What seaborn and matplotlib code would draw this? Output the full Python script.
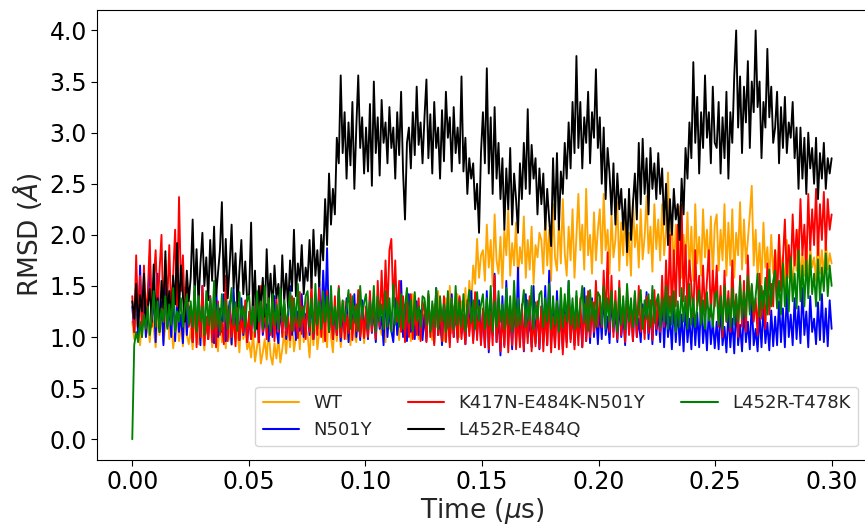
import numpy as np
import pandas as pd
import matplotlib
matplotlib.use("Agg")
import matplotlib.pyplot as plt
import seaborn as sns

# ---- data (RMSD in Angstrom, sampled uniformly over 0 - 0.3 us) ----
series_names = ["WT", "N501Y", "K417N-E484K-N501Y", "L452R-E484Q", "L452R-T478K"]
series_colors = ["orange", "blue", "red", "black", "green"]
t_start, t_end = 0.0, 0.30

rmsd_wt = [
    1.15, 0.98, 1.22, 1.05, 0.92, 1.18, 1.30, 1.00, 1.12, 0.95, 1.25, 1.08, 0.90, 1.20, 1.02, 1.28, 0.94, 1.10, 1.35, 0.98, 1.16, 0.89, 1.05, 1.24, 0.96, 1.12, 0.91, 1.30, 1.02, 0.93,
    1.08, 0.88, 1.20, 1.00, 0.93, 1.25, 1.05, 0.87, 1.15, 0.98, 1.28, 0.90, 1.10, 1.02, 0.86, 1.22, 0.95, 1.12, 0.89, 1.30, 1.00, 0.92, 1.18, 0.96, 1.06, 0.85, 1.20, 0.98, 1.08, 0.88,
    0.95, 0.80, 1.05, 0.76, 0.90, 1.02, 0.74, 0.85, 0.98, 0.78, 1.08, 0.82, 0.73, 0.94, 0.79, 1.00, 0.75, 0.88, 1.05, 0.84, 1.12, 0.90, 1.20, 0.86, 1.00, 1.15, 0.88, 1.25, 0.95, 1.08,
    1.02, 0.80, 1.15, 0.92, 1.22, 0.88, 1.05, 1.28, 0.95, 1.10, 0.90, 1.30, 1.00, 0.85, 1.18, 0.96, 1.25, 0.90, 1.08, 1.35, 0.98, 1.12, 0.92, 1.22, 1.04, 0.95, 1.28, 1.00, 1.15, 0.94,
    1.20, 0.98, 1.35, 1.05, 1.25, 0.96, 1.40, 1.10, 1.02, 1.30, 0.95, 1.45, 1.08, 1.22, 0.99, 1.32, 1.12, 0.97, 1.38, 1.04, 1.18, 1.00, 1.28, 0.96, 1.42, 1.06, 1.15, 0.98, 1.25, 1.03,
    1.28, 1.00, 1.40, 1.05, 0.97, 1.32, 1.10, 1.45, 1.02, 1.22, 0.96, 1.38, 1.08, 1.50, 1.04, 1.30, 1.12, 1.42, 1.00, 1.35, 1.15, 1.48, 1.10, 1.55, 1.30, 1.70, 1.52, 1.96, 1.58, 1.80,
    1.85, 1.55, 2.10, 1.68, 1.95, 1.50, 2.20, 1.75, 1.62, 1.98, 1.48, 2.05, 1.80, 2.25, 1.60, 1.92, 1.70, 2.12, 1.55, 1.88, 1.72, 2.18, 1.58, 1.95, 1.66, 2.08, 1.52, 1.90, 1.78, 2.02,
    1.95, 1.62, 2.20, 1.70, 2.05, 1.55, 2.30, 1.78, 1.65, 2.15, 1.72, 2.35, 1.82, 1.60, 2.08, 1.75, 2.25, 1.58, 1.98, 2.40, 1.85, 2.10, 1.66, 2.45, 1.80, 2.00, 1.62, 2.22, 1.75, 2.05,
    2.25, 1.72, 2.40, 1.85, 2.05, 1.62, 2.20, 1.78, 1.95, 2.32, 1.65, 2.12, 1.80, 2.28, 1.70, 2.02, 1.60, 2.35, 1.88, 2.10, 1.68, 2.25, 1.76, 1.98, 2.38, 1.82, 2.08, 1.64, 2.30, 1.86,
    2.15, 1.75, 2.30, 1.80, 2.05, 2.61, 1.78, 2.20, 1.62, 2.10, 1.70, 2.28, 1.58, 2.00, 1.75, 2.22, 1.62, 2.08, 1.55, 2.30, 1.72, 1.98, 1.60, 2.25, 1.78, 2.05, 1.65, 2.18, 1.58, 2.10,
    2.20, 1.65, 2.05, 1.75, 2.30, 1.60, 2.12, 1.70, 2.25, 1.58, 2.02, 1.80, 2.32, 1.66, 2.15, 1.72, 1.95, 2.20, 2.48, 1.70, 2.05, 1.58, 1.92, 1.52, 2.12, 1.68, 1.88, 1.55, 2.00, 1.62,
    1.85, 1.55, 2.00, 1.62, 1.80, 1.48, 1.95, 1.58, 1.75, 1.45, 1.90, 1.65, 2.05, 1.52, 1.82, 1.60, 1.98, 1.50, 1.88, 1.68, 1.78, 1.55, 2.02, 1.62, 1.85, 1.58, 1.95, 1.66, 1.82, 1.72,
]

rmsd_n501y = [
    1.30, 1.05, 1.55, 0.98, 1.70, 1.12, 1.42, 1.00, 1.25, 1.80, 1.15, 1.40, 0.95, 1.62, 1.08, 1.35, 0.92, 1.50, 1.10, 1.28, 1.00, 1.45, 0.96, 1.38, 1.05, 1.22, 0.94, 1.48, 1.02, 1.30,
    1.25, 0.95, 1.45, 1.08, 1.30, 0.92, 1.50, 1.02, 1.18, 0.98, 1.40, 1.10, 0.94, 1.55, 1.00, 1.28, 1.05, 1.42, 0.96, 1.20, 1.35, 0.93, 1.48, 1.04, 1.26, 0.97, 1.38, 1.02, 1.22, 0.95,
    1.20, 0.98, 1.38, 1.05, 1.25, 0.95, 1.45, 1.02, 1.15, 1.32, 0.96, 1.22, 1.00, 1.40, 1.08, 0.94, 1.28, 1.04, 1.35, 0.98, 1.18, 1.50, 1.02, 1.30, 0.97, 1.25, 1.06, 1.42, 1.00, 1.22,
    1.25, 1.02, 1.40, 0.98, 1.32, 1.08, 1.55, 1.10, 1.65, 1.20, 1.87, 1.05, 1.35, 0.98, 1.28, 1.02, 1.45, 0.96, 1.22, 1.05, 1.38, 0.95, 1.30, 1.08, 1.42, 1.00, 1.25, 0.97, 1.36, 1.04,
    1.25, 0.98, 1.40, 1.04, 1.30, 0.95, 1.35, 1.08, 1.20, 0.92, 1.45, 1.00, 1.28, 1.06, 0.95, 1.38, 1.02, 1.22, 1.55, 1.00, 1.32, 0.96, 1.42, 1.05, 1.18, 0.98, 1.35, 1.02, 1.26, 0.97,
    1.22, 0.96, 1.40, 1.05, 1.30, 0.94, 1.48, 1.02, 1.20, 0.92, 1.35, 1.08, 1.26, 0.95, 1.42, 1.00, 1.30, 0.98, 1.38, 1.04, 1.18, 0.93, 1.32, 1.06, 1.45, 0.97, 1.25, 1.02, 1.36, 0.95,
    1.25, 0.90, 1.45, 0.85, 1.30, 1.02, 1.62, 0.95, 1.20, 0.82, 1.40, 0.92, 1.55, 1.02, 1.22, 0.88, 1.35, 0.96, 1.68, 0.95, 1.28, 0.86, 1.42, 1.00, 1.18, 0.90, 1.50, 0.94, 1.30, 0.88,
    1.30, 0.95, 1.50, 0.92, 1.65, 1.00, 1.28, 0.90, 1.45, 1.05, 1.20, 0.88, 1.35, 0.95, 1.55, 0.98, 1.25, 0.92, 1.40, 1.02, 1.22, 0.90, 1.48, 0.96, 1.30, 0.94, 1.38, 1.00, 1.26, 0.93,
    1.28, 0.98, 1.45, 1.02, 1.20, 0.94, 1.40, 1.05, 1.25, 0.95, 1.35, 1.00, 1.22, 0.92, 1.42, 1.05, 1.30, 0.96, 1.38, 1.00, 1.18, 0.95, 1.32, 1.04, 1.44, 0.98, 1.26, 0.93, 1.36, 1.02,
    1.25, 0.95, 1.40, 0.90, 1.30, 1.00, 1.20, 0.88, 1.35, 0.95, 1.28, 0.92, 1.22, 0.86, 1.32, 0.95, 1.18, 0.88, 1.30, 0.92, 1.24, 0.90, 1.36, 0.94, 1.20, 0.87, 1.28, 0.93, 1.16, 0.89,
    1.15, 0.88, 1.30, 0.92, 1.10, 0.85, 1.25, 0.90, 1.18, 0.84, 1.32, 0.92, 1.12, 0.86, 1.28, 0.95, 1.15, 0.88, 1.35, 0.92, 1.08, 0.86, 1.22, 0.90, 1.30, 0.94, 1.14, 0.87, 1.26, 0.91,
    1.20, 0.92, 1.35, 0.95, 1.28, 0.90, 1.45, 1.00, 1.22, 0.92, 1.38, 0.98, 1.30, 0.94, 1.48, 1.02, 1.25, 0.90, 1.40, 1.05, 1.18, 0.93, 1.34, 0.97, 1.42, 0.95, 1.28, 0.91, 1.36, 1.08,
]

rmsd_k417n = [
    1.40, 1.05, 1.80, 1.15, 1.60, 1.00, 1.70, 1.20, 1.45, 1.95, 1.10, 1.55, 1.85, 1.25, 1.65, 2.00, 1.15, 1.75, 1.35, 1.90, 1.22, 1.60, 2.05, 1.30, 2.37, 1.45, 1.80, 1.20, 1.60, 1.10,
    1.25, 0.95, 1.45, 0.90, 1.30, 1.00, 1.50, 0.92, 1.20, 0.98, 1.40, 0.95, 1.28, 0.90, 1.35, 1.02, 1.15, 0.93, 1.60, 0.96, 1.30, 1.00, 1.22, 0.91, 1.42, 0.97, 1.18, 1.04, 1.36, 0.95,
    1.25, 0.98, 1.42, 1.00, 1.35, 0.95, 1.50, 1.05, 1.30, 0.98, 1.45, 1.02, 1.28, 0.96, 1.38, 1.05, 1.48, 1.00, 1.32, 1.02, 1.20, 0.97, 1.40, 1.06, 1.25, 0.99, 1.44, 1.03, 1.30, 0.98,
    1.40, 1.05, 1.55, 0.98, 1.35, 1.02, 1.48, 1.00, 1.30, 0.96, 1.45, 1.05, 1.25, 0.98, 1.40, 1.02, 1.50, 1.00, 1.35, 0.98, 1.22, 1.04, 1.42, 0.97, 1.30, 1.06, 1.46, 1.00, 1.28, 0.99,
    1.30, 1.00, 1.45, 1.05, 1.38, 0.98, 1.55, 1.10, 1.65, 1.15, 1.75, 1.25, 1.85, 1.96, 1.30, 1.75, 1.15, 1.55, 1.05, 1.40, 0.95, 1.35, 1.00, 1.42, 0.98, 1.30, 1.02, 1.38, 0.96, 1.25,
    1.35, 0.95, 1.42, 1.00, 1.28, 0.92, 1.45, 1.02, 1.30, 0.96, 1.40, 0.95, 1.25, 0.90, 1.38, 1.00, 1.32, 0.95, 1.40, 0.98, 1.22, 0.93, 1.36, 1.01, 1.28, 0.94, 1.44, 0.97, 1.30, 0.92,
    1.28, 0.90, 1.35, 0.88, 1.25, 0.92, 1.60, 0.95, 1.30, 0.86, 1.22, 0.90, 1.38, 0.85, 1.28, 0.92, 1.45, 0.88, 1.20, 0.90, 1.32, 0.87, 1.26, 0.94, 1.40, 0.86, 1.18, 0.91, 1.35, 0.89,
    1.30, 0.86, 1.25, 0.92, 1.40, 0.85, 1.20, 0.90, 1.35, 0.88, 1.28, 0.83, 1.22, 0.90, 1.42, 0.95, 1.30, 0.88, 1.24, 0.92, 1.38, 0.90, 1.32, 0.96, 1.45, 1.00, 1.35, 1.05, 1.55, 1.10,
    1.40, 1.10, 1.65, 1.15, 1.83, 1.05, 1.60, 1.00, 1.45, 0.98, 1.55, 1.02, 1.35, 0.95, 1.48, 1.02, 1.30, 0.96, 1.42, 1.00, 1.50, 1.05, 1.28, 0.98, 1.40, 1.04, 1.36, 0.97, 1.46, 1.08,
    1.40, 1.05, 1.60, 1.10, 1.75, 1.25, 2.00, 1.20, 1.85, 1.30, 2.10, 1.40, 2.30, 1.35, 1.90, 1.25, 1.75, 1.50, 1.20, 1.85, 1.30, 1.60, 1.15, 1.70, 1.25, 1.55, 1.85, 1.20, 1.65, 1.30,
    1.70, 1.10, 1.50, 1.00, 1.65, 1.15, 1.45, 1.05, 1.75, 1.20, 1.40, 1.00, 1.60, 1.10, 1.55, 1.05, 1.80, 1.25, 1.50, 1.15, 1.38, 1.02, 1.62, 1.18, 1.45, 1.08, 1.72, 1.22, 1.52, 1.30,
    1.85, 1.30, 2.00, 1.45, 1.75, 2.15, 1.55, 1.90, 1.60, 2.20, 1.70, 2.05, 1.75, 2.35, 1.80, 2.10, 1.65, 2.40, 1.85, 2.25, 1.90, 2.45, 1.80, 2.30, 1.95, 2.42, 1.85, 2.35, 2.05, 2.20,
]

rmsd_l452r_e484q = [
    1.35, 1.18, 1.52, 1.10, 1.41, 1.25, 1.62, 1.08, 1.30, 1.47, 1.15, 1.71, 1.22, 1.38, 1.05, 1.55, 1.28, 1.84, 1.20, 1.45, 1.12, 1.60, 1.32, 1.92, 1.25, 1.70, 1.40, 1.15, 1.65, 1.35,
    1.58, 2.15, 1.40, 1.86, 1.32, 1.72, 2.02, 1.50, 1.78, 1.36, 1.95, 1.55, 2.08, 1.40, 1.62, 1.85, 2.32, 1.45, 1.96, 1.38, 1.70, 2.10, 1.48, 1.82, 1.30, 1.65, 1.95, 1.42, 1.74, 1.35,
    1.42, 2.12, 1.25, 1.65, 1.08, 1.50, 1.30, 1.58, 1.20, 1.86, 1.35, 1.62, 1.25, 1.70, 1.38, 1.52, 1.22, 1.80, 1.35, 1.62, 1.28, 1.75, 1.45, 2.05, 1.40, 1.72, 1.55, 1.90, 1.42, 1.68,
    1.55, 1.95, 1.48, 2.05, 1.60, 1.85, 1.50, 2.00, 1.75, 2.35, 1.90, 2.60, 2.10, 2.45, 2.20, 2.95, 2.70, 3.56, 2.80, 3.20, 2.55, 3.10, 2.68, 3.30, 2.45, 3.05, 3.56, 2.85, 3.15, 2.60,
    3.05, 2.62, 3.28, 2.48, 3.50, 2.80, 3.15, 2.58, 3.32, 2.90, 3.10, 2.70, 3.25, 2.85, 3.05, 2.55, 3.20, 2.78, 3.40, 2.62, 2.15, 2.90, 3.05, 2.65, 3.20, 2.78, 3.45, 2.88, 3.10, 2.70,
    3.15, 3.52, 2.75, 3.18, 2.60, 3.30, 2.85, 3.05, 2.55, 3.22, 2.72, 3.40, 2.95, 3.15, 2.62, 3.25, 2.80, 3.05, 2.70, 3.55, 2.62, 2.95, 2.40, 2.75, 2.55, 2.70, 2.25, 2.50, 2.02, 2.80,
    3.20, 2.70, 3.63, 2.60, 3.15, 2.40, 3.25, 2.55, 2.90, 2.35, 2.75, 2.05, 2.65, 2.25, 2.85, 2.10, 2.60, 2.35, 2.02, 2.70, 2.35, 2.90, 2.45, 3.23, 2.40, 2.88, 2.55, 2.75, 2.20, 2.65,
    2.30, 2.60, 2.05, 2.45, 2.15, 1.89, 2.75, 2.15, 2.80, 2.05, 2.62, 2.40, 2.90, 2.55, 3.10, 2.65, 3.30, 2.80, 3.75, 2.85, 3.30, 2.65, 3.15, 2.90, 3.40, 2.70, 3.20, 2.95, 3.62, 2.85,
    3.15, 2.50, 3.05, 2.35, 2.85, 2.60, 2.20, 2.70, 2.10, 2.60, 2.25, 2.45, 2.05, 2.35, 1.83, 2.45, 1.95, 2.30, 2.60, 2.15, 2.90, 2.30, 2.94, 2.40, 2.75, 2.20, 2.85, 2.45, 2.70, 2.35,
    2.80, 2.40, 2.65, 2.10, 2.50, 1.90, 2.35, 2.00, 2.45, 2.15, 2.30, 1.95, 2.55, 2.20, 2.85, 2.55, 3.10, 2.75, 3.69, 2.90, 3.35, 2.60, 3.20, 2.85, 3.56, 2.95, 3.20, 2.70, 3.45, 2.90,
    2.85, 3.30, 2.60, 3.15, 2.75, 3.40, 2.55, 3.20, 2.90, 3.55, 4.00, 3.05, 3.55, 2.80, 3.45, 3.10, 3.70, 2.85, 3.50, 3.20, 4.00, 3.25, 3.50, 2.75, 3.30, 3.05, 3.82, 3.15, 3.45, 2.90,
    3.05, 3.40, 2.70, 3.25, 2.85, 3.35, 2.80, 3.10, 2.95, 3.30, 2.75, 3.05, 2.45, 3.05, 2.55, 2.95, 2.40, 3.00, 2.65, 2.85, 2.50, 2.95, 2.35, 2.80, 2.55, 2.90, 2.45, 2.75, 2.60, 2.75,
]

rmsd_l452r_t478k = [
    0.00, 0.92, 1.05, 0.95, 1.15, 1.00, 1.22, 1.08, 1.30, 1.02, 1.18, 1.45, 1.10, 1.35, 1.05, 1.28, 1.15, 1.40, 1.08, 1.32, 1.12, 1.48, 1.05, 1.25, 1.15, 1.38, 1.10, 1.30, 1.42, 1.12,
    1.35, 1.10, 1.50, 1.05, 1.40, 1.15, 1.30, 1.02, 1.45, 1.12, 1.38, 1.08, 1.55, 1.10, 1.32, 1.05, 1.42, 1.15, 1.36, 1.08, 1.28, 1.48, 1.12, 1.34, 1.06, 1.44, 1.18, 1.30, 1.10, 1.40,
    1.40, 1.12, 1.30, 1.05, 1.45, 1.15, 1.35, 1.08, 1.50, 1.10, 1.38, 1.05, 1.42, 1.12, 1.32, 1.08, 1.48, 1.15, 1.36, 1.10, 1.26, 1.44, 1.06, 1.38, 1.14, 1.52, 1.10, 1.30, 1.18, 1.40,
    1.45, 1.10, 1.38, 1.05, 1.52, 1.12, 1.35, 1.08, 1.45, 1.15, 1.40, 1.05, 1.50, 1.12, 1.30, 1.08, 1.48, 1.10, 1.36, 1.15, 1.28, 1.46, 1.08, 1.40, 1.14, 1.32, 1.06, 1.50, 1.18, 1.34,
    1.42, 1.08, 1.35, 1.12, 1.50, 1.05, 1.40, 1.15, 1.32, 1.08, 1.45, 1.10, 1.38, 1.05, 1.52, 1.12, 1.35, 1.10, 1.42, 1.08, 1.30, 1.48, 1.14, 1.36, 1.06, 1.44, 1.16, 1.30, 1.10, 1.40,
    1.38, 1.12, 1.45, 1.05, 1.35, 1.10, 1.48, 1.08, 1.40, 1.15, 1.32, 1.05, 1.45, 1.10, 1.38, 1.08, 1.50, 1.12, 1.35, 1.10, 1.42, 1.06, 1.30, 1.46, 1.14, 1.36, 1.08, 1.44, 1.16, 1.32,
    1.42, 1.08, 1.38, 1.12, 1.50, 1.05, 1.35, 1.10, 1.45, 1.15, 1.32, 1.08, 1.48, 1.12, 1.40, 1.05, 1.55, 1.10, 1.38, 1.12, 1.28, 1.46, 1.10, 1.36, 1.16, 1.50, 1.08, 1.34, 1.18, 1.42,
    1.45, 1.10, 1.38, 1.15, 1.52, 1.08, 1.40, 1.12, 1.35, 1.05, 1.48, 1.10, 1.42, 1.15, 1.55, 1.12, 1.38, 1.08, 1.45, 1.10, 1.32, 1.50, 1.14, 1.40, 1.06, 1.46, 1.16, 1.34, 1.10, 1.44,
    1.40, 1.12, 1.50, 1.08, 1.38, 1.15, 1.45, 1.10, 1.35, 1.05, 1.48, 1.12, 1.40, 1.08, 1.52, 1.15, 1.38, 1.10, 1.45, 1.12, 1.30, 1.46, 1.08, 1.36, 1.18, 1.42, 1.10, 1.50, 1.14, 1.34,
    1.42, 1.10, 1.38, 1.15, 1.50, 1.08, 1.40, 1.12, 1.45, 1.05, 1.35, 1.10, 1.48, 1.15, 1.40, 1.08, 1.52, 1.12, 1.38, 1.10, 1.30, 1.46, 1.12, 1.36, 1.08, 1.44, 1.16, 1.32, 1.10, 1.40,
    1.45, 1.12, 1.40, 1.08, 1.50, 1.15, 1.38, 1.10, 1.48, 1.12, 1.42, 1.15, 1.55, 1.18, 1.45, 1.20, 1.60, 1.22, 1.52, 1.25, 1.40, 1.62, 1.20, 1.50, 1.28, 1.58, 1.22, 1.66, 1.30, 1.55,
    1.65, 1.28, 1.55, 1.22, 1.72, 1.30, 1.60, 1.25, 1.78, 1.35, 1.62, 1.28, 1.85, 1.35, 1.70, 1.30, 1.75, 1.38, 1.80, 1.42, 1.62, 1.30, 1.76, 1.36, 1.68, 1.45, 1.82, 1.40, 1.70, 1.50,
]

series_values = [rmsd_wt, rmsd_n501y, rmsd_k417n, rmsd_l452r_e484q, rmsd_l452r_t478k]

# ---- long-form table ----
frames = []
for name, vals in zip(series_names, series_values):
    t = np.linspace(t_start, t_end, len(vals))
    frames.append(pd.DataFrame({"time": t, "rmsd": vals, "series": name}))
df = pd.concat(frames, ignore_index=True)

sns.set_style("ticks")
plt.rcParams["font.family"] = ["DejaVu Sans"]

fig = plt.figure(figsize=(8.65, 5.25), dpi=100)
ax = fig.add_axes([97.3 / 865, 65.3 / 525, (866.6 - 97.3) / 865, 449.7 / 525])

sns.lineplot(data=df, x="time", y="rmsd", hue="series", hue_order=series_names,
             palette=dict(zip(series_names, series_colors)), estimator=None,
             sort=False, linewidth=1.35, ax=ax)

ax.set_xlim(-0.015, 0.315)
ax.set_ylim(-0.2, 4.2)
ax.set_xticks([0.0, 0.05, 0.10, 0.15, 0.20, 0.25, 0.30])
ax.set_yticks([0.0, 0.5, 1.0, 1.5, 2.0, 2.5, 3.0, 3.5, 4.0])
ax.xaxis.set_major_formatter(matplotlib.ticker.FormatStrFormatter("%.2f"))
ax.yaxis.set_major_formatter(matplotlib.ticker.FormatStrFormatter("%.1f"))
ax.tick_params(labelsize=17, length=4, width=0.8, colors="black")
for s in ax.spines.values():
    s.set_color("black")
    s.set_linewidth(0.8)

ax.set_xlabel(r"Time ($\mu$s)", fontsize=19, labelpad=1)
ax.set_ylabel(r"RMSD ($\AA$)", fontsize=19)

handles, labels = ax.get_legend_handles_labels()
for h in handles:
    h.set_linewidth(1.5)
ax.legend(handles, labels, ncol=3, loc="lower right", fontsize=13,
          bbox_to_anchor=(1.0, 0.01), bbox_transform=ax.transAxes,
          columnspacing=2.0)

fig.savefig("out.png", dpi=100)
